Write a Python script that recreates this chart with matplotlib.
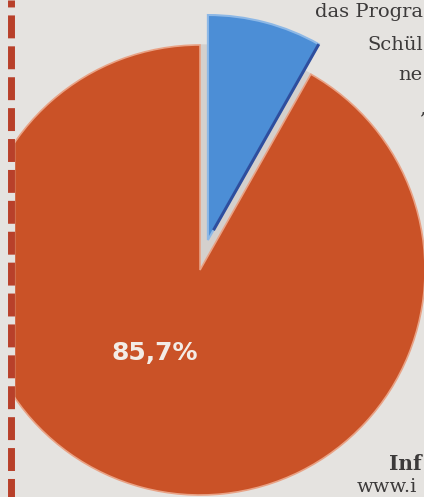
import matplotlib
matplotlib.use("Agg")
import matplotlib.pyplot as plt
from matplotlib.patches import Wedge, Rectangle
import numpy as np

# wedge shares as drawn in the picture (the printed label says 85,7%)
slice_names = ["nein", "ja"]
slice_share = [91.8, 8.2]
slice_colors = ["#CA5227", "#4C8ED6"]
slice_explode = [0, 31]
label_text = "85,7%"

W, H = 424, 497
BG = "#E5E3E0"
cx, cy = 200, H - 270
R = 225

fig = plt.figure(figsize=(W / 100, H / 100), dpi=100, facecolor=BG)
ax = fig.add_axes([0, 0, 1, 1])
ax.set_facecolor(BG)

# gap left by the exploded slice
start = 90
blue_span = 360 * slice_share[1] / sum(slice_share)
ax.add_patch(Wedge((cx, cy), R, start - blue_span, start, color="#D4D0CD", zorder=1))

wedges, _ = ax.pie(slice_share[::-1], colors=slice_colors[::-1], explode=slice_explode[::-1],
                   startangle=start, counterclock=False, radius=R, center=(cx, cy),
                   frame=True, wedgeprops=dict(linewidth=0))
blue, red = wedges
blue.set_zorder(3)
red.set_zorder(2)
red.set_edgecolor("#E9A285")
red.set_linewidth(1.2)
blue.set_edgecolor("#8DB8E6")
blue.set_linewidth(1.5)

# dark right edge of the blue slice
bx, by = blue.center
t = np.deg2rad(blue.theta1)
ax.plot([bx + 0.05 * R * np.cos(t), bx + blue.r * np.cos(t)],
        [by + 0.05 * R * np.sin(t), by + blue.r * np.sin(t)],
        color="#2E4E9E", lw=2.2, zorder=4, solid_capstyle="butt")

# clip the pie at the dashed rule on the left
ax.add_patch(Rectangle((0, 0), 14, H, color=BG, zorder=5))
ax.plot([11, 11], [H, 0], color="#B8402A", lw=5, linestyle=(2.3, (3.3, 1.15)), zorder=6)

ax.text(155, H - 353, label_text, color="#F3ECE6", fontsize=18, fontweight="bold",
        ha="center", va="center", zorder=7)

serif = dict(family="DejaVu Serif", color="#3C3A3A", zorder=7)
ax.text(315, H - 17, "das Progra", fontsize=14, **serif)
ax.text(367, H - 50, "Schül", fontsize=14, **serif)
ax.text(398, H - 80, "ne", fontsize=14, **serif)
ax.text(419, H - 113, "‚", fontsize=14, **serif)
ax.text(389, H - 470, "Inf", fontsize=14.5, fontweight="bold", **serif)
ax.text(357, 1, "www.i", fontsize=14, va="bottom", **serif)

ax.set_xlim(0, W)
ax.set_ylim(0, H)
ax.axis("off")
fig.savefig("out.png", dpi=100, facecolor=BG)
